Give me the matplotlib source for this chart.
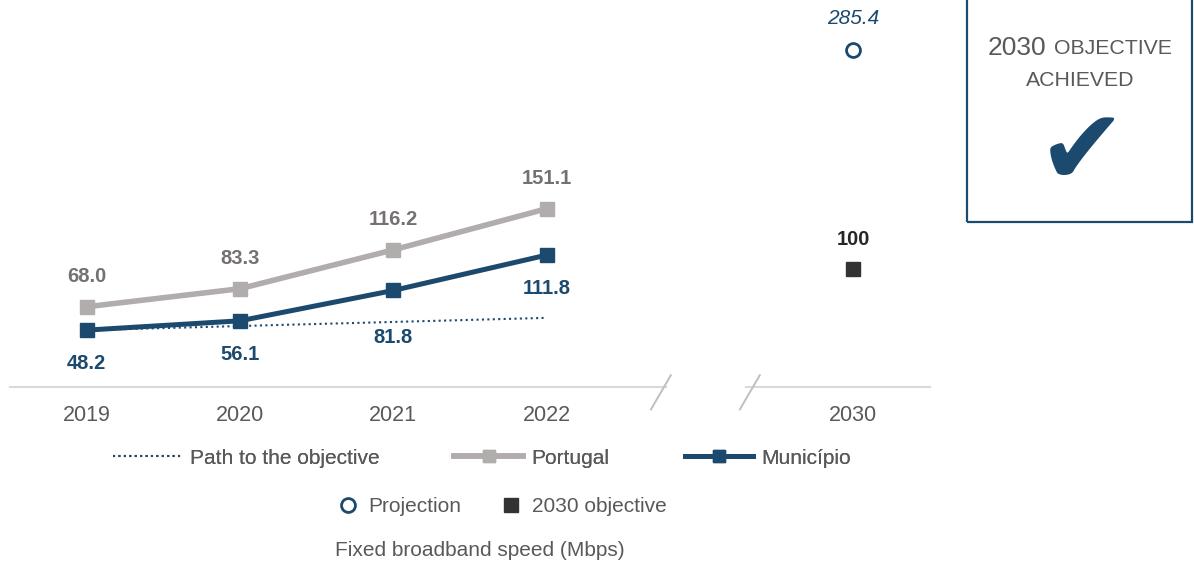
import matplotlib.pyplot as plt
from matplotlib.lines import Line2D
from matplotlib.patches import Rectangle

plt.rcParams['font.family'] = ['Liberation Sans', 'DejaVu Sans']

years = ['2019', '2020', '2021', '2022', '2030']
xpos = [0, 1, 2, 3, 5]          # 2030 sits after the axis break
portugal = [68.0, 83.3, 116.2, 151.1]
municipio = [48.2, 56.1, 81.8, 111.8]
path_years = [0, 3]
path_vals = [48.2, 58.6]
projection_2030 = 285.4
objective_2030 = 100

navy = '#1C4A6E'
grey_line = '#B1ADAD'
grey_txt = '#767171'
txt = '#595959'

fig = plt.figure(figsize=(11.94, 5.64), dpi=100)
ax = fig.add_axes([10/1194, 1-387/564, 920/1194, 377/564])
ax.set_xlim(-0.5, 5.5)
ax.set_ylim(0, 319.5)
for s in ax.spines.values():
    s.set_visible(False)
ax.set_yticks([])
ax.set_xticks(xpos)
ax.set_xticklabels(years, fontsize=15.5, color=txt)
ax.tick_params(axis='x', length=0, pad=13)

# broken axis line
ax.plot([-0.5, 3.78], [0, 0], color='#D9D9D9', lw=1.5, clip_on=False, zorder=1)
ax.plot([4.30, 5.5], [0, 0], color='#D9D9D9', lw=1.5, clip_on=False, zorder=1)
ax.plot([3.81, 3.68], [10, -19], color='#BFBFBF', lw=1.4, clip_on=False)
ax.plot([4.39, 4.26], [10, -19], color='#BFBFBF', lw=1.4, clip_on=False)

ax.plot(path_years, path_vals, color=navy, lw=1.5, ls=(0, (1, 1.6)), zorder=2)
ax.plot(xpos[:4], portugal, color=grey_line, lw=4, marker='s', ms=10, zorder=3)
ax.plot(xpos[:4], municipio, color=navy, lw=3.6, marker='s', ms=10, zorder=4)
ax.plot([xpos[4]], [projection_2030], ls='none', marker='o', ms=10,
        mfc='white', mec=navy, mew=2, zorder=4)
ax.plot([xpos[4]], [objective_2030], ls='none', marker='s', ms=10,
        color='#333333', zorder=4)

for x, v in zip(xpos, portugal):
    ax.annotate(f'{v:.1f}', (x, v), xytext=(0, 22), textcoords='offset points',
                ha='center', va='center', fontsize=14.5, fontweight='bold', color=grey_txt)
muni_off = [-24, -24, -34, -24]
for x, v, o in zip(xpos, municipio, muni_off):
    ax.annotate(f'{v:.1f}', (x, v), xytext=(0, o), textcoords='offset points',
                ha='center', va='center', fontsize=14.5, fontweight='bold', color=navy)
ax.annotate(f'{projection_2030:.1f}', (xpos[4], projection_2030), xytext=(0, 23),
            textcoords='offset points', ha='center', va='center',
            fontsize=15, fontstyle='italic', color=navy)
ax.annotate(f'{objective_2030}', (xpos[4], objective_2030), xytext=(0, 21),
            textcoords='offset points', ha='center', va='center',
            fontsize=14.5, fontweight='bold', color='#262626')

# legends
h1 = [Line2D([], [], color=navy, lw=1.5, ls=(0, (1, 1.6))),
      Line2D([], [], color=grey_line, lw=4, marker='s', ms=8),
      Line2D([], [], color=navy, lw=3.6, marker='s', ms=8)]
leg1 = fig.legend(h1, ['Path to the objective', 'Portugal', 'Município'],
                  loc='center', bbox_to_anchor=(482/1194, 1-458/564), ncol=3,
                  frameon=False, fontsize=15, handlelength=3.3, handletextpad=0.4,
                  columnspacing=3.6, labelcolor=txt, numpoints=1)
h2 = [Line2D([], [], ls='none', marker='o', ms=10, mfc='white', mec=navy, mew=2),
      Line2D([], [], ls='none', marker='s', ms=10, color='#333333')]
fig.legend(h2, ['Projection', '2030 objective'], loc='center',
           bbox_to_anchor=(502/1194, 1-507/564), ncol=2, frameon=False,
           fontsize=15, handlelength=1, handletextpad=0.5, columnspacing=1.9,
           labelcolor=txt)
fig.add_artist(leg1)
fig.text(480/1194, 1-551/564, 'Fixed broadband speed (Mbps)', ha='center',
         va='center', fontsize=15, color=txt)

# objective box
fig.add_artist(Rectangle((967/1194, 1-222/564), 225/1194, 0.5, transform=fig.transFigure,
                         fill=False, ec=navy, lw=1.6, clip_on=False))
fig.text(1046/1194, 1-48/564, '2030', ha='right', va='center', fontsize=19, color=txt)
fig.text(1054/1194, 1-48/564, 'OBJECTIVE', ha='left', va='center', fontsize=15.3, color=txt)
fig.text(1080/1194, 1-81/564, 'ACHIEVED', ha='center', va='center', fontsize=15.3, color=txt)
fig.text(1082/1194, 1-155/564, '\u2714', ha='center', va='center', fontsize=76,
         color=navy, family='DejaVu Sans')

fig.savefig('out.png', dpi=100)
